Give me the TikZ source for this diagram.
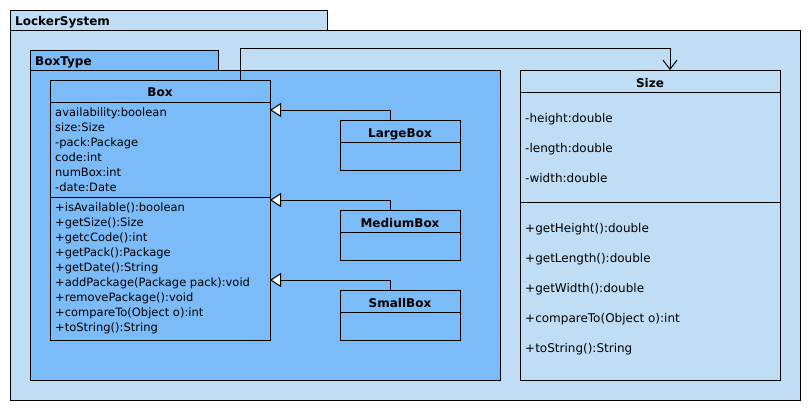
\documentclass[tikz,border=0pt]{standalone}
\usepackage{fontspec}
\setmainfont{DejaVu Sans}
\usetikzlibrary{arrows.meta}
\definecolor{outerc}{RGB}{191,221,244}
\definecolor{innerc}{RGB}{123,187,248}
\begin{document}
\begin{tikzpicture}[x=1pt,y=-1pt,
 frame/.style={draw=black, line width=1pt, anchor=north west, inner sep=0pt, outer sep=0pt},
 lbl/.style={anchor=base west, inner sep=0pt, font=\fontsize{11.5}{13}\selectfont},
 slbl/.style={anchor=base west, inner sep=0pt, font=\fontsize{12}{14}\selectfont},
 ttl/.style={anchor=base, inner sep=0pt, font=\bfseries\fontsize{12}{14}\selectfont},
 pttl/.style={anchor=base west, inner sep=0pt, font=\bfseries\fontsize{12}{14}\selectfont},
 sepline/.style={line width=1pt},
 gen/.style={line width=1pt, -{Triangle[open,length=11pt,width=14pt,fill=white]}},
 assoc/.style={line width=1pt, -{Straight Barb[length=9pt,width=14pt]}}
]
\useasboundingbox (0,0) rectangle (810,410);
% LockerSystem package
\node[frame, fill=outerc, minimum width=317pt, minimum height=20pt] (lstab) at (10,10) {};
\node[frame, fill=outerc, minimum width=790pt, minimum height=370pt] (ls) at (10,30) {};
\node[pttl] (lsname) at (15,25) {LockerSystem};
% BoxType package
\node[frame, fill=innerc, minimum width=188pt, minimum height=20pt] (bttab) at (30,50) {};
\node[frame, fill=innerc, minimum width=470pt, minimum height=310pt] (bt) at (30,70) {};
\node[pttl] (btname) at (35,65) {BoxType};
% Box class
\node[frame, fill=innerc, minimum width=220pt, minimum height=260pt] (box) at (50,80) {};
\node[ttl] (boxt) at (160,96) {Box};
\draw[sepline] ([yshift=-22pt]box.north west) -- ([yshift=-22pt]box.north east);
\draw[sepline] ([yshift=-117pt]box.north west) -- ([yshift=-117pt]box.north east);
\foreach \t [count=\i from 0] in {availability:boolean, size:Size, -pack:Package, code:int, numBox:int, -date:Date}
  \node[lbl] (ba\i) at (55,116+15*\i) {\t};
\foreach \t [count=\i from 0] in {+isAvailable():boolean, +getSize():Size, +getcCode():int, +getPack():Package, +getDate():String, +addPackage(Package pack):void, +removePackage():void, +compareTo(Object o):int, +toString():String}
  \node[lbl] (bm\i) at (55,211+15*\i) {\t};
% Subclasses
\node[frame, fill=innerc, minimum width=120pt, minimum height=50pt] (large) at (340,120) {};
\node[ttl] (larget) at (400,137) {LargeBox};
\draw[sepline] ([yshift=-22pt]large.north west) -- ([yshift=-22pt]large.north east);
\node[frame, fill=innerc, minimum width=120pt, minimum height=50pt] (medium) at (340,210) {};
\node[ttl] (mediumt) at (400,227) {MediumBox};
\draw[sepline] ([yshift=-22pt]medium.north west) -- ([yshift=-22pt]medium.north east);
\node[frame, fill=innerc, minimum width=120pt, minimum height=50pt] (small) at (340,290) {};
\node[ttl] (smallt) at (400,307) {SmallBox};
\draw[sepline] ([yshift=-22pt]small.north west) -- ([yshift=-22pt]small.north east);
% Size class
\node[frame, fill=outerc, minimum width=260pt, minimum height=310pt] (size) at (520,70) {};
\node[ttl] (sizet) at (650,87) {Size};
\draw[sepline] ([yshift=-22pt]size.north west) -- ([yshift=-22pt]size.north east);
\draw[sepline] ([yshift=-132pt]size.north west) -- ([yshift=-132pt]size.north east);
\foreach \t [count=\i from 0] in {-height:double, -length:double, -width:double}
  \node[slbl] (sa\i) at (525,122+30*\i) {\t};
\foreach \t [count=\i from 0] in {+getHeight():double, +getLength():double, +getWidth():double, +compareTo(Object o):int, +toString():String}
  \node[slbl] (sm\i) at (525,232+30*\i) {\t};
% Generalizations
\draw[gen] ([xshift=-10pt]large.north) -- ++(0,-10) coordinate (lg) -- (lg -| box.east);
\draw[gen] ([xshift=-10pt]medium.north) -- ++(0,-10) coordinate (mg) -- (mg -| box.east);
\draw[gen] ([xshift=-10pt]small.north) -- ++(0,-10) coordinate (sg) -- (sg -| box.east);
% Association
\draw[assoc] ([xshift=80pt]box.north) |- ([xshift=20pt,yshift=22pt]size.north) -- ([xshift=20pt]size.north);
\end{tikzpicture}
\end{document}
